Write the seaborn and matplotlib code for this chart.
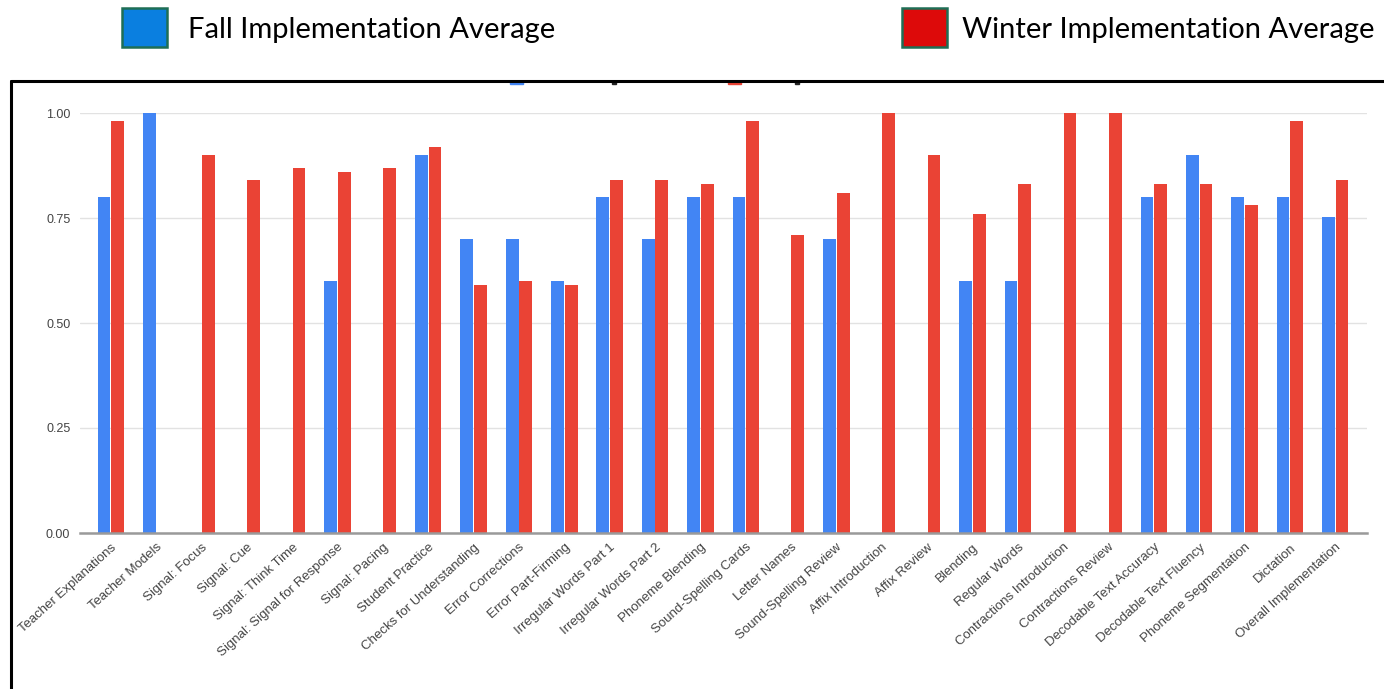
import numpy as np
import pandas as pd
import matplotlib
matplotlib.use("Agg")
import matplotlib.pyplot as plt
import seaborn as sns
from matplotlib.patches import Rectangle
from matplotlib.lines import Line2D

nan = np.nan

categories = [
    "Teacher Explanations", "Teacher Models", "Signal: Focus", "Signal: Cue",
    "Signal: Think Time", "Signal: Signal for Response", "Signal: Pacing",
    "Student Practice", "Checks for Understanding", "Error Corrections",
    "Error Part-Firming", "Irregular Words Part 1", "Irregular Words Part 2",
    "Phoneme Blending", "Sound-Spelling Cards", "Letter Names",
    "Sound-Spelling Review", "Affix Introduction", "Affix Review", "Blending",
    "Regular Words", "Contractions Introduction", "Contractions Review",
    "Decodable Text Accuracy", "Decodable Text Fluency", "Phoneme Segmentation",
    "Dictation", "Overall Implementation",
]

fall = [0.80, 1.00, nan, nan, nan, 0.60, nan, 0.90, 0.70, 0.70, 0.60, 0.80,
        0.70, 0.80, 0.80, nan, 0.70, nan, nan, 0.60, 0.60, nan, nan, 0.80,
        0.90, 0.80, 0.80, 0.753]

winter = [0.98, nan, 0.90, 0.84, 0.87, 0.86, 0.87, 0.92, 0.59, 0.60, 0.59,
          0.84, 0.84, 0.83, 0.98, 0.71, 0.81, 1.00, 0.90, 0.76, 0.83, 1.00,
          1.00, 0.83, 0.83, 0.78, 0.98, 0.84]

series_names = ["Fall Implementation Average", "Winter Implementation Average"]
yticks = [0.0, 0.25, 0.50, 0.75, 1.00]

bar_colors = ["#4285F4", "#EA4335"]
legend_colors = ["#0A7FE0", "#DD0A0A"]

# long format for seaborn
df = pd.DataFrame({
    "category": categories * 2,
    "value": fall + winter,
    "series": [series_names[0]] * len(categories) + [series_names[1]] * len(categories),
})

W, H = 1384, 689
fig = plt.figure(figsize=(W / 100, H / 100), dpi=100)
sns.set_style("white")
plt.rcParams['font.family'] = ['Liberation Sans', 'DejaVu Sans']

ax = fig.add_axes([80 / W, (H - 533) / H, 1287 / W, 420 / H])
sns.barplot(data=df, x="category", y="value", hue="series", order=categories,
            hue_order=series_names, palette=bar_colors, saturation=1,
            errorbar=None, width=0.6, gap=0.06, linewidth=0, ax=ax, legend=False)

for p in ax.patches:
    p.set_clip_on(False)
    p.set_zorder(3)

ax.set_xlim(-0.68, len(categories) - 1 + 0.70)
ax.set_ylim(0, 1.0)
ax.set_yticks(yticks)
ax.set_yticklabels([f"{t:.2f}" for t in yticks], fontsize=9, color="#444444")
ax.yaxis.grid(True, color="#e2e2e2", linewidth=1)
ax.set_axisbelow(True)
ax.tick_params(axis="y", length=0, pad=7)
ax.tick_params(axis="x", length=0, pad=6)
ax.set_xticks(range(len(categories)))
ax.set_xticklabels(categories, rotation=42, ha="right", rotation_mode="anchor",
                   fontsize=9.5, color="#444444")
for s in ["top", "right", "left"]:
    ax.spines[s].set_visible(False)
ax.spines["bottom"].set_color("#9a9a9a")
ax.spines["bottom"].set_linewidth(1.8)
ax.spines["bottom"].set_zorder(4)
ax.set_xlabel("")
ax.set_ylabel("")


def px(x, y):
    return x / W, 1 - y / H


# frame around the chart (runs off the right and bottom edge)
fig.add_artist(Line2D([px(11, 0)[0], 1.0], [px(0, 81)[1]] * 2, color="black", lw=2.2))
fig.add_artist(Line2D([px(11, 0)[0]] * 2, [px(0, 81)[1], 0.0], color="black", lw=2.2))

# bits of the clipped inner legend
for x0, w, c in [(510, 13, bar_colors[0]), (612, 4, "#222222"), (728, 13, bar_colors[1]), (795, 4, "#222222")]:
    fig.add_artist(Rectangle(px(x0, 84), w / W, 2 / H, color=c, transform=fig.transFigure))

# top legend
for (x0, tx), name, c in zip([(122, 188), (902, 962)], series_names, legend_colors):
    fig.add_artist(Rectangle(px(x0, 47), 45 / W, 39 / H, facecolor=c, edgecolor="#1E6E55",
                             linewidth=1.8, transform=fig.transFigure))
    fig.text(*px(tx, 30), name, fontsize=21, family=["Lato", "DejaVu Sans"],
             va="center", ha="left", color="black")

fig.savefig("out.png", dpi=100, facecolor="white")
